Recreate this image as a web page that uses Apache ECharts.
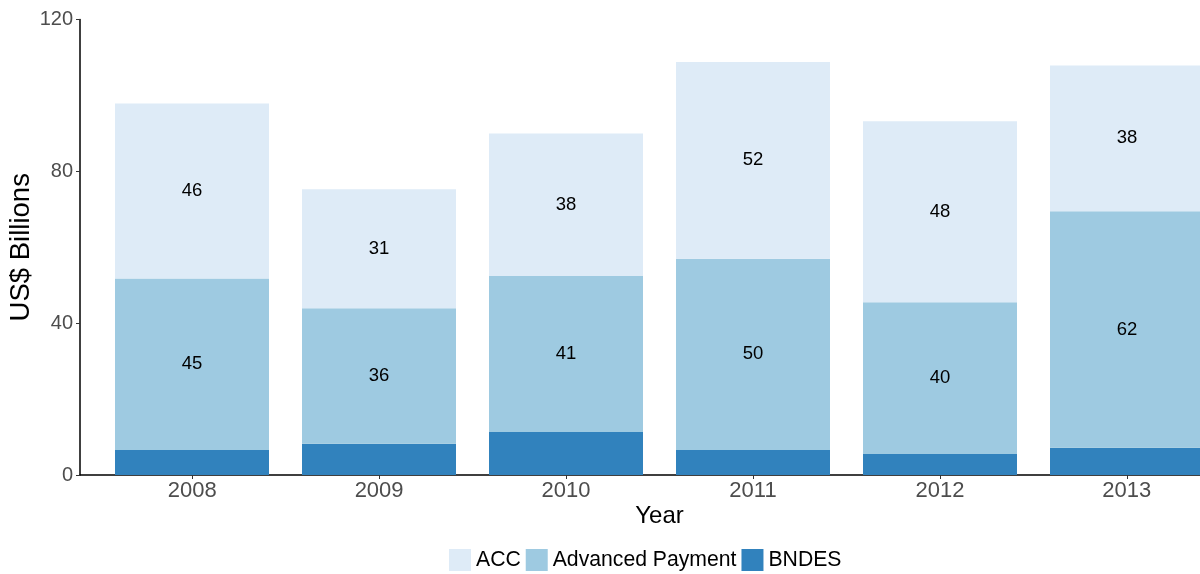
<!DOCTYPE html>
<html>
<head>
<meta charset="utf-8">
<script src="https://cdn.jsdelivr.net/npm/echarts@6/dist/echarts.min.js"></script>
<style>
  html, body { margin: 0; padding: 0; background: #fff; }
  #chart { width: 1200px; height: 574px; }
</style>
</head>
<body>
<div id="chart"></div>
<script>
// 数据
var years = ['2008', '2009', '2010', '2011', '2012', '2013'];
var xPos = [1, 2, 3, 4, 5, 6];
var bndes = [6.6, 8.2, 11.3, 6.6, 5.5, 7.2];
var advPay = [45.2, 35.7, 41.1, 50.4, 40.0, 62.3];
var acc = [46.1, 31.4, 37.6, 51.8, 47.7, 38.4];

var font = 'Liberation Sans, Arial, sans-serif';

function barSeries(name, vals, color, showLabel) {
    return {
        name: name,
        type: 'bar',
        stack: 'total',
        xAxisIndex: 0,
        yAxisIndex: 0,
        barWidth: 154,
        data: vals,
        itemStyle: { color: color },
        label: {
            show: showLabel,
            position: 'inside',
            color: '#000',
            fontSize: 18.5,
            fontFamily: font,
            formatter: function (p) { return Math.round(p.value); }
        }
    };
}

var chart = echarts.init(document.getElementById('chart'));
var option = {
    animation: false,
    // grid 0: 画柱子 (类目轴, 每格187px)；grid 1: 画坐标轴 (0.4 ~ 6.6)
    grid: [
        { left: 98.5, top: 19.5, width: 1122, height: 455.5, outerBoundsMode: 'none', containLabel: false },
        { left: 80, top: 19.5, width: 1159, height: 455.5, outerBoundsMode: 'none', containLabel: false }
    ],
    legend: {
        left: 449,
        top: 549,
        padding: 0,
        itemWidth: 22,
        itemHeight: 22,
        itemGap: 5,
        icon: 'rect',
        textStyle: { color: '#000', fontSize: 21.2, fontFamily: font },
        data: ['ACC', 'Advanced Payment', 'BNDES']
    },
    xAxis: [
        { type: 'category', gridIndex: 0, data: years, show: false },
        {
            type: 'value',
            gridIndex: 1,
            min: 0.4,
            max: 6.6,
            name: 'Year',
            nameLocation: 'middle',
            nameGap: 29,
            nameMoveOverlap: false,
            nameTextStyle: { color: '#000', fontSize: 24, fontFamily: font },
            splitLine: { show: false },
            axisLine: { lineStyle: { color: '#000', width: 1.5 } },
            axisTick: { customValues: xPos, length: 4, lineStyle: { color: '#333' } },
            axisLabel: {
                customValues: xPos,
                color: '#4d4d4d',
                fontSize: 22,
                fontFamily: font,
                margin: 5,
                formatter: function (v) { return years[Math.round(v) - 1]; }
            }
        }
    ],
    yAxis: [
        { type: 'value', gridIndex: 0, min: 0, max: 120, show: false },
        {
            type: 'value',
            gridIndex: 1,
            min: 0,
            max: 120,
            interval: 40,
            name: 'US$ Billions',
            nameLocation: 'middle',
            nameGap: 45,
            nameMoveOverlap: false,
            nameTextStyle: { color: '#000', fontSize: 27.5, fontFamily: font },
            splitLine: { show: false },
            axisLine: { show: true, lineStyle: { color: '#000', width: 1.5 } },
            axisTick: { show: true, length: 4, lineStyle: { color: '#333' } },
            axisLabel: { color: '#4d4d4d', fontSize: 20, fontFamily: font, margin: 7 }
        }
    ],
    series: [
        barSeries('BNDES', bndes, '#3182bd', false),
        barSeries('Advanced Payment', advPay, '#9ecae1', true),
        barSeries('ACC', acc, '#deebf7', true)
    ]
};
chart.setOption(option);
</script>
</body>
</html>
